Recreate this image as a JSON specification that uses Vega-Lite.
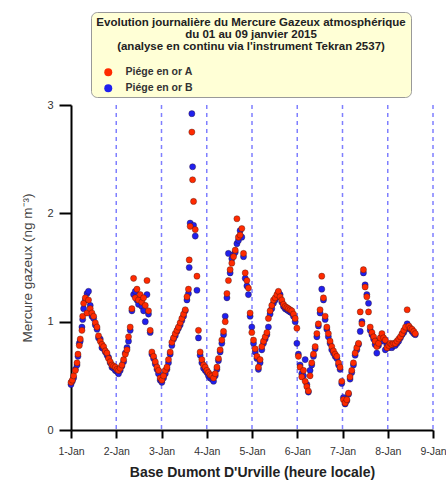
{
  "$schema": "https://vega.github.io/schema/vega-lite/v6.json",
  "width": 362,
  "height": 325,
  "autosize": {"type": "none"},
  "padding": {"left": 71, "top": 105, "right": 13, "bottom": 54},
  "background": "white",
  "config": {"view": {"stroke": null}, "font": "Liberation Sans"},
  "data": {"values": [
    {"t":"2015-01-01T00:00","A":0.44,"B":0.42},{"t":"2015-01-01T00:42","A":0.46,"B":0.45},{"t":"2015-01-01T01:24","A":0.50,"B":0.48},{"t":"2015-01-01T02:18","A":0.55,"B":0.56},{"t":"2015-01-01T03:12","A":0.62,"B":0.60},{"t":"2015-01-01T03:42","A":0.70,"B":0.68},{"t":"2015-01-01T04:24","A":0.78,"B":0.80},{"t":"2015-01-01T04:54","A":0.84,"B":0.82},{"t":"2015-01-01T05:48","A":0.92,"B":0.95},{"t":"2015-01-01T06:12","A":1.05,"B":1.02},{"t":"2015-01-01T06:42","A":1.17,"B":1.12},{"t":"2015-01-01T07:36","A":1.22,"B":1.20},{"t":"2015-01-01T08:30","A":1.08,"B":1.26},{"t":"2015-01-01T09:18","A":1.20,"B":1.28},{"t":"2015-01-01T10:12","A":1.12,"B":1.15},{"t":"2015-01-01T11:06","A":1.08,"B":1.05},{"t":"2015-01-01T12:00","A":1.05,"B":1.03},{"t":"2015-01-01T12:54","A":0.99,"B":0.97},{"t":"2015-01-01T13:48","A":0.95,"B":0.93},{"t":"2015-01-01T14:36","A":0.87,"B":0.85},{"t":"2015-01-01T15:30","A":0.82,"B":0.84},{"t":"2015-01-01T16:24","A":0.79,"B":0.76},{"t":"2015-01-01T17:18","A":0.77,"B":0.75},{"t":"2015-01-01T18:12","A":0.73,"B":0.72},{"t":"2015-01-01T19:06","A":0.71,"B":0.69},{"t":"2015-01-01T19:54","A":0.66,"B":0.67},{"t":"2015-01-01T20:48","A":0.63,"B":0.62},{"t":"2015-01-01T21:42","A":0.60,"B":0.58},{"t":"2015-01-01T22:36","A":0.59,"B":0.57},{"t":"2015-01-01T23:30","A":0.58,"B":0.55},
    {"t":"2015-01-02T00:24","A":0.56,"B":0.54},{"t":"2015-01-02T01:12","A":0.55,"B":0.52},{"t":"2015-01-02T02:06","A":0.57,"B":0.55},{"t":"2015-01-02T03:00","A":0.60,"B":0.59},{"t":"2015-01-02T03:54","A":0.65,"B":0.63},{"t":"2015-01-02T04:48","A":0.70,"B":0.71},{"t":"2015-01-02T05:42","A":0.74,"B":0.76},{"t":"2015-01-02T06:30","A":0.86,"B":0.82},{"t":"2015-01-02T07:24","A":0.95,"B":0.92},{"t":"2015-01-02T08:18","A":1.12,"B":1.10},{"t":"2015-01-02T09:12","A":1.40,"B":1.25},{"t":"2015-01-02T10:06","A":1.22,"B":1.28},{"t":"2015-01-02T11:00","A":1.30,"B":1.20},{"t":"2015-01-02T11:48","A":1.20,"B":1.16},{"t":"2015-01-02T12:42","A":1.25,"B":1.22},{"t":"2015-01-02T13:36","A":1.18,"B":1.14},{"t":"2015-01-02T14:30","A":1.22,"B":1.10},{"t":"2015-01-02T15:24","A":1.15,"B":1.00},{"t":"2015-01-02T16:18","A":1.38,"B":1.25},{"t":"2015-01-02T17:06","A":1.10,"B":1.07},{"t":"2015-01-02T18:00","A":0.92,"B":0.90},{"t":"2015-01-02T18:54","A":0.72,"B":0.70},{"t":"2015-01-02T19:48","A":0.68,"B":0.66},{"t":"2015-01-02T20:42","A":0.63,"B":0.61},{"t":"2015-01-02T21:36","A":0.58,"B":0.56},{"t":"2015-01-02T22:24","A":0.55,"B":0.52},{"t":"2015-01-02T23:18","A":0.48,"B":0.46},
    {"t":"2015-01-03T00:12","A":0.46,"B":0.44},{"t":"2015-01-03T01:06","A":0.50,"B":0.48},{"t":"2015-01-03T02:00","A":0.55,"B":0.52},{"t":"2015-01-03T02:54","A":0.58,"B":0.56},{"t":"2015-01-03T03:42","A":0.65,"B":0.62},{"t":"2015-01-03T04:36","A":0.72,"B":0.70},{"t":"2015-01-03T05:30","A":0.81,"B":0.78},{"t":"2015-01-03T06:24","A":0.85,"B":0.84},{"t":"2015-01-03T07:18","A":0.89,"B":0.87},{"t":"2015-01-03T08:12","A":0.92,"B":0.91},{"t":"2015-01-03T09:00","A":0.95,"B":0.94},{"t":"2015-01-03T09:54","A":0.99,"B":0.97},{"t":"2015-01-03T10:48","A":1.03,"B":1.01},{"t":"2015-01-03T11:42","A":1.07,"B":1.05},{"t":"2015-01-03T12:36","A":1.11,"B":1.10},{"t":"2015-01-03T13:30","A":1.23,"B":1.20},{"t":"2015-01-03T14:18","A":1.30,"B":1.26},{"t":"2015-01-03T14:42","A":1.57,"B":1.50},{"t":"2015-01-03T15:12","A":1.88,"B":1.91},{"t":"2015-01-03T16:06","A":2.75,"B":2.92},{"t":"2015-01-03T16:30","A":2.31,"B":2.43},{"t":"2015-01-03T17:00","A":2.11,"B":1.89},{"t":"2015-01-03T17:54","A":1.85,"B":1.79},{"t":"2015-01-03T18:48","A":1.42,"B":1.29},{"t":"2015-01-03T19:36","A":0.92,"B":0.85},{"t":"2015-01-03T20:30","A":0.72,"B":0.69},{"t":"2015-01-03T21:24","A":0.65,"B":0.62},{"t":"2015-01-03T22:18","A":0.60,"B":0.57},{"t":"2015-01-03T23:12","A":0.58,"B":0.55},
    {"t":"2015-01-04T00:06","A":0.55,"B":0.53},{"t":"2015-01-04T00:54","A":0.53,"B":0.50},{"t":"2015-01-04T01:48","A":0.51,"B":0.48},{"t":"2015-01-04T02:42","A":0.50,"B":0.47},{"t":"2015-01-04T03:36","A":0.48,"B":0.45},{"t":"2015-01-04T04:30","A":0.52,"B":0.50},{"t":"2015-01-04T05:24","A":0.58,"B":0.56},{"t":"2015-01-04T06:12","A":0.66,"B":0.64},{"t":"2015-01-04T07:06","A":0.74,"B":0.72},{"t":"2015-01-04T08:00","A":0.83,"B":0.80},{"t":"2015-01-04T08:54","A":0.91,"B":0.88},{"t":"2015-01-04T09:48","A":1.00,"B":1.05},{"t":"2015-01-04T10:42","A":1.26,"B":1.22},{"t":"2015-01-04T11:30","A":1.38,"B":1.63},{"t":"2015-01-04T12:24","A":1.48,"B":1.45},{"t":"2015-01-04T13:18","A":1.54,"B":1.58},{"t":"2015-01-04T14:12","A":1.60,"B":1.62},{"t":"2015-01-04T15:06","A":1.66,"B":1.64},{"t":"2015-01-04T16:00","A":1.95,"B":1.72},{"t":"2015-01-04T16:48","A":1.78,"B":1.75},{"t":"2015-01-04T17:42","A":1.80,"B":1.84},{"t":"2015-01-04T18:36","A":1.86,"B":1.78},{"t":"2015-01-04T19:30","A":1.63,"B":1.60},{"t":"2015-01-04T20:24","A":1.45,"B":1.40},{"t":"2015-01-04T21:18","A":1.38,"B":1.33},{"t":"2015-01-04T22:06","A":1.31,"B":1.25},{"t":"2015-01-04T23:00","A":1.08,"B":1.05},{"t":"2015-01-04T23:54","A":0.90,"B":0.95},
    {"t":"2015-01-05T00:48","A":0.83,"B":0.80},{"t":"2015-01-05T01:42","A":0.75,"B":0.72},{"t":"2015-01-05T02:36","A":0.68,"B":0.66},{"t":"2015-01-05T03:24","A":0.58,"B":0.56},{"t":"2015-01-05T04:18","A":0.65,"B":0.62},{"t":"2015-01-05T05:12","A":0.77,"B":0.74},{"t":"2015-01-05T06:06","A":0.82,"B":0.80},{"t":"2015-01-05T07:00","A":0.86,"B":0.84},{"t":"2015-01-05T07:54","A":0.90,"B":0.88},{"t":"2015-01-05T08:42","A":1.03,"B":0.95},{"t":"2015-01-05T09:36","A":1.10,"B":1.07},{"t":"2015-01-05T10:30","A":1.15,"B":1.12},{"t":"2015-01-05T11:24","A":1.20,"B":1.17},{"t":"2015-01-05T12:18","A":1.22,"B":1.20},{"t":"2015-01-05T13:12","A":1.25,"B":1.23},{"t":"2015-01-05T14:00","A":1.28,"B":1.27},{"t":"2015-01-05T14:54","A":1.23,"B":1.25},{"t":"2015-01-05T15:48","A":1.20,"B":1.18},{"t":"2015-01-05T16:42","A":1.16,"B":1.14},{"t":"2015-01-05T17:36","A":1.14,"B":1.12},{"t":"2015-01-05T18:30","A":1.13,"B":1.11},{"t":"2015-01-05T19:18","A":1.12,"B":1.10},{"t":"2015-01-05T20:12","A":1.11,"B":1.09},{"t":"2015-01-05T21:06","A":1.10,"B":1.08},{"t":"2015-01-05T22:00","A":1.07,"B":1.05},{"t":"2015-01-05T22:54","A":1.03,"B":1.00},{"t":"2015-01-05T23:48","A":0.94,"B":0.80},
    {"t":"2015-01-06T00:36","A":0.68,"B":0.70},{"t":"2015-01-06T01:30","A":0.58,"B":0.60},{"t":"2015-01-06T02:24","A":0.49,"B":0.52},{"t":"2015-01-06T03:18","A":0.55,"B":0.50},{"t":"2015-01-06T04:12","A":0.45,"B":0.65},{"t":"2015-01-06T05:06","A":0.40,"B":0.42},{"t":"2015-01-06T05:54","A":0.36,"B":0.35},{"t":"2015-01-06T06:48","A":0.50,"B":0.55},{"t":"2015-01-06T07:42","A":0.62,"B":0.60},{"t":"2015-01-06T08:36","A":0.70,"B":0.68},{"t":"2015-01-06T09:30","A":0.77,"B":0.75},{"t":"2015-01-06T10:24","A":0.89,"B":0.86},{"t":"2015-01-06T11:12","A":0.98,"B":0.96},{"t":"2015-01-06T12:06","A":1.11,"B":1.08},{"t":"2015-01-06T13:00","A":1.42,"B":1.30},{"t":"2015-01-06T13:54","A":1.22,"B":1.20},{"t":"2015-01-06T14:48","A":1.05,"B":1.02},{"t":"2015-01-06T15:42","A":0.95,"B":0.93},{"t":"2015-01-06T16:30","A":0.89,"B":0.86},{"t":"2015-01-06T17:24","A":0.82,"B":0.80},{"t":"2015-01-06T18:18","A":0.77,"B":0.74},{"t":"2015-01-06T19:12","A":0.73,"B":0.71},{"t":"2015-01-06T20:06","A":0.70,"B":0.68},{"t":"2015-01-06T21:00","A":0.68,"B":0.66},{"t":"2015-01-06T21:54","A":0.62,"B":0.60},{"t":"2015-01-06T22:42","A":0.58,"B":0.56},{"t":"2015-01-06T23:36","A":0.45,"B":0.43},
    {"t":"2015-01-07T00:30","A":0.28,"B":0.30},{"t":"2015-01-07T01:24","A":0.25,"B":0.24},{"t":"2015-01-07T02:18","A":0.28,"B":0.27},{"t":"2015-01-07T03:12","A":0.34,"B":0.33},{"t":"2015-01-07T04:00","A":0.49,"B":0.47},{"t":"2015-01-07T04:54","A":0.55,"B":0.53},{"t":"2015-01-07T05:48","A":0.62,"B":0.60},{"t":"2015-01-07T06:42","A":0.71,"B":0.69},{"t":"2015-01-07T07:36","A":0.76,"B":0.74},{"t":"2015-01-07T08:30","A":0.80,"B":0.79},{"t":"2015-01-07T09:24","A":1.09,"B":0.91},{"t":"2015-01-07T10:18","A":0.98,"B":1.00},{"t":"2015-01-07T11:06","A":1.48,"B":1.45},{"t":"2015-01-07T12:00","A":1.32,"B":1.34},{"t":"2015-01-07T12:54","A":1.23,"B":1.25},{"t":"2015-01-07T13:48","A":1.09,"B":1.17},{"t":"2015-01-07T14:42","A":0.95,"B":0.92},{"t":"2015-01-07T15:36","A":0.90,"B":0.88},{"t":"2015-01-07T16:30","A":0.86,"B":0.84},{"t":"2015-01-07T17:18","A":0.82,"B":0.79},{"t":"2015-01-07T18:12","A":0.77,"B":0.71},{"t":"2015-01-07T19:06","A":0.80,"B":0.78},{"t":"2015-01-07T20:00","A":0.85,"B":0.83},{"t":"2015-01-07T20:54","A":0.89,"B":0.87},{"t":"2015-01-07T21:48","A":0.85,"B":0.82},{"t":"2015-01-07T22:42","A":0.83,"B":0.74},{"t":"2015-01-07T23:36","A":0.76,"B":0.78},
    {"t":"2015-01-08T00:30","A":0.78,"B":0.76},{"t":"2015-01-08T01:18","A":0.80,"B":0.78},{"t":"2015-01-08T02:12","A":0.79,"B":0.76},{"t":"2015-01-08T03:06","A":0.80,"B":0.78},{"t":"2015-01-08T04:00","A":0.80,"B":0.78},{"t":"2015-01-08T04:54","A":0.82,"B":0.80},{"t":"2015-01-08T05:48","A":0.84,"B":0.82},{"t":"2015-01-08T06:42","A":0.86,"B":0.85},{"t":"2015-01-08T07:36","A":0.89,"B":0.88},{"t":"2015-01-08T08:30","A":0.92,"B":0.90},{"t":"2015-01-08T09:24","A":0.95,"B":0.93},{"t":"2015-01-08T10:18","A":1.11,"B":0.98},{"t":"2015-01-08T11:12","A":0.96,"B":0.95},{"t":"2015-01-08T12:00","A":0.94,"B":0.93},{"t":"2015-01-08T12:54","A":0.93,"B":0.91},{"t":"2015-01-08T13:48","A":0.91,"B":0.89},{"t":"2015-01-08T14:36","A":0.89,"B":0.88}
  ]},
  "encoding": {
    "x": {
      "field": "t",
      "type": "temporal",
      "scale": {"domain": [{"year": 2015, "month": "jan", "date": 1}, {"year": 2015, "month": "jan", "date": 9}], "nice": false},
      "axis": {
        "values": [
          {"year": 2015, "month": "jan", "date": 1}, {"year": 2015, "month": "jan", "date": 2}, {"year": 2015, "month": "jan", "date": 3},
          {"year": 2015, "month": "jan", "date": 4}, {"year": 2015, "month": "jan", "date": 5}, {"year": 2015, "month": "jan", "date": 6},
          {"year": 2015, "month": "jan", "date": 7}, {"year": 2015, "month": "jan", "date": 8}, {"year": 2015, "month": "jan", "date": 9}
        ],
        "format": "%-d-%b",
        "title": "Base Dumont D'Urville (heure locale)",
        "grid": false,
        "domainColor": "#000000",
        "domainWidth": 2,
        "tickColor": "#000000",
        "tickWidth": 2,
        "tickSize": 8,
        "labelFontSize": 10.5,
        "labelColor": "#333333",
        "labelPadding": 8,
        "labelFlush": false,
        "labelOverlap": false,
        "titleFontSize": 14,
        "titleFontWeight": "bold",
        "titleColor": "#222222",
        "titlePadding": 9
      }
    }
  },
  "layer": [
    {
      "data": {"values": [
        {"t": "2015-01-02T00:00"}, {"t": "2015-01-03T00:00"}, {"t": "2015-01-04T00:00"}, {"t": "2015-01-05T00:00"},
        {"t": "2015-01-06T00:00"}, {"t": "2015-01-07T00:00"}, {"t": "2015-01-08T00:00"}, {"t": "2015-01-09T00:00"}
      ]},
      "mark": {"type": "rule", "color": "#7f7fff", "strokeWidth": 1.5},
      "encoding": {
        "strokeDash": {
          "datum": "box",
          "type": "nominal",
          "scale": {"domain": ["box"], "range": [[4, 4]]},
          "legend": {
            "title": ["Evolution journalière du Mercure Gazeux atmosphérique", "du 01 au 09 janvier 2015", "(analyse en continu via l'instrument Tekran 2537)"],
            "orient": "none",
            "legendX": 20,
            "legendY": -93,
            "zindex": 0,
            "fillColor": "#ffffd6",
            "strokeColor": "#999999",
            "cornerRadius": 6,
            "padding": 5,
            "titleFontSize": 11.5,
            "titleFontWeight": "bold",
            "titleLineHeight": 12,
            "titleAlign": "center",
            "titleAnchor": "middle",
            "titleLimit": 500,
            "titleColor": "#222222",
            "titlePadding": 29,
            "labelExpr": "''",
            "labelFontSize": 10,
            "symbolOpacity": 0,
            "symbolStrokeWidth": 0
          }
        }
      }
    },
    {
      "mark": {"type": "circle", "size": 38, "opacity": 1, "stroke": "#301010", "strokeWidth": 0.6, "strokeOpacity": 0.6},
      "encoding": {
        "y": {
          "field": "B",
          "type": "quantitative",
          "scale": {"domain": [0, 3], "nice": false},
          "axis": {
            "values": [0, 1, 2, 3],
            "format": "d",
            "title": "Mercure gazeux (ng m⁻³)",
            "grid": false,
            "domainColor": "#000000",
            "domainWidth": 2,
            "tickColor": "#000000",
            "tickWidth": 2,
            "tickSize": 12,
            "labelFontSize": 11,
            "labelColor": "#333333",
            "labelPadding": 6,
            "titleFontSize": 13.5,
            "titleFontWeight": "normal",
            "titleColor": "#444444",
            "titlePadding": 12
          }
        },
        "color": {
          "datum": "Piége en or B",
          "type": "nominal",
          "scale": {"domain": ["Piége en or A", "Piége en or B"], "range": ["#ff2a00", "#2020ee"]},
          "legend": {
            "title": null,
            "orient": "none",
            "legendX": 32,
            "legendY": -38,
            "zindex": 1,
            "padding": 0,
            "labelFontSize": 10.5,
            "labelFontWeight": "bold",
            "labelColor": "#333333",
            "symbolType": "circle",
            "symbolSize": 64,
            "symbolStrokeWidth": 0,
            "symbolOpacity": 1,
            "symbolOffset": 0,
            "labelOffset": 12,
            "rowPadding": 5
          }
        }
      }
    },
    {
      "mark": {"type": "circle", "size": 38, "opacity": 1, "stroke": "#301010", "strokeWidth": 0.6, "strokeOpacity": 0.6},
      "encoding": {
        "y": {"field": "A", "type": "quantitative", "scale": {"domain": [0, 3], "nice": false}},
        "color": {
          "datum": "Piége en or A",
          "type": "nominal",
          "scale": {"domain": ["Piége en or A", "Piége en or B"], "range": ["#ff2a00", "#2020ee"]}
        }
      }
    }
  ]
}
